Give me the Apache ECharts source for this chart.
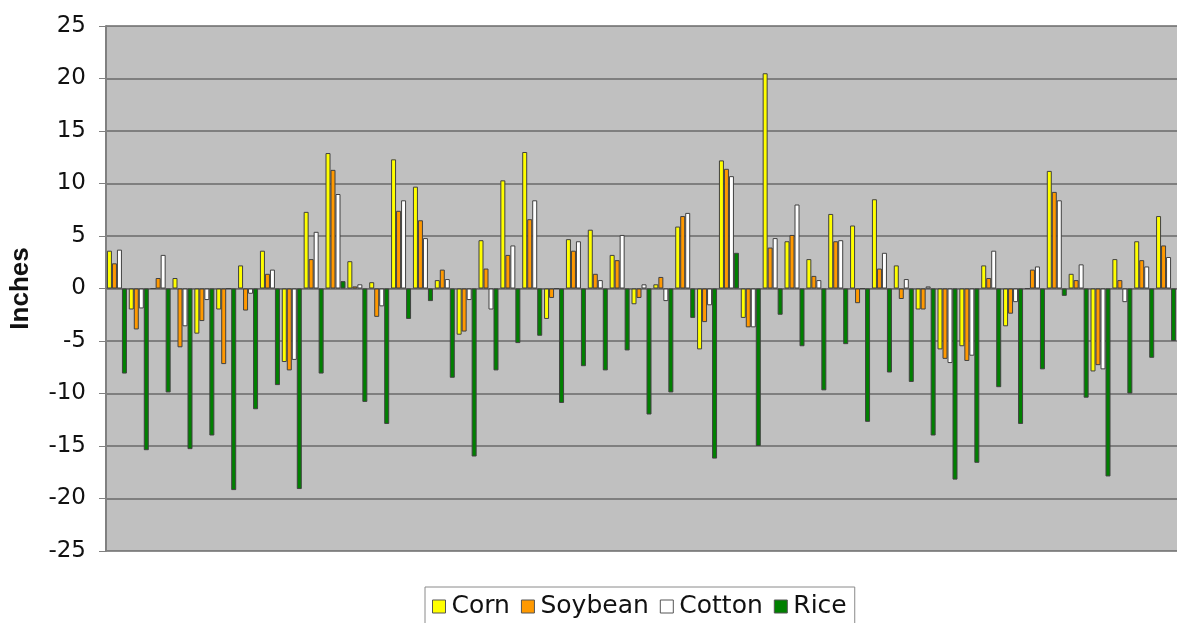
<!DOCTYPE html>
<html>
<head>
<meta charset="utf-8">
<script src="https://cdn.jsdelivr.net/npm/echarts@6/dist/echarts.min.js"></script>
<style>
html,body{margin:0;padding:0;background:#fff;}
#c{width:1177px;height:623px;}
</style>
</head>
<body>
<div id="c"></div>
<script>
const categories = ["1","2","3","4","5","6","7","8","9","10","11","12","13","14","15","16","17","18","19","20","21","22","23","24","25","26","27","28","29","30","31","32","33","34","35","36","37","38","39","40","41","42","43","44","45","46","47","48","49"];
const corn = [3.6, -2.0, 0.0, 1.0, -4.3, -2.0, 2.2, 3.6, -7.0, 7.3, 12.9, 2.6, 0.6, 12.3, 9.7, 0.8, -4.4, 4.6, 10.3, 13.0, -2.9, 4.7, 5.6, 3.2, -1.5, 0.4, 5.9, -5.8, 12.2, -2.8, 20.5, 4.5, 2.8, 7.1, 6.0, 8.5, 2.2, -2.0, -5.8, -5.5, 2.2, -3.6, 0.0, 11.2, 1.4, -7.9, 2.8, 4.5, 6.9];
const soybean = [2.4, -3.9, 1.0, -5.6, -3.1, -7.2, -2.1, 1.4, -7.8, 2.8, 11.3, 0.2, -2.7, 7.4, 6.5, 1.8, -4.1, 1.9, 3.2, 6.6, -0.9, 3.6, 1.4, 2.7, -0.9, 1.1, 6.9, -3.2, 11.4, -3.7, 3.9, 5.1, 1.2, 4.5, -1.4, 1.9, -1.0, -2.0, -6.7, -6.9, 1.0, -2.4, 1.8, 9.2, 0.8, -7.3, 0.8, 2.7, 4.1];
const cotton = [3.7, -1.9, 3.2, -3.6, -1.1, 0, -0.5, 1.8, -6.8, 5.4, 9.0, 0.4, -1.7, 8.4, 4.8, 0.9, -1.1, -2.0, 4.1, 8.4, 0, 4.5, 0.8, 5.1, 0.4, -1.2, 7.2, -1.6, 10.7, -3.7, 4.8, 8.0, 0.8, 4.6, 0, 3.4, 0.9, 0.2, -7.1, -6.4, 3.6, -1.3, 2.1, 8.4, 2.3, -7.7, -1.3, 2.1, 3.0];
const rice = [-8.1, -15.4, -9.9, -15.3, -14.0, -19.2, -11.5, -9.2, -19.1, -8.1, 0.7, -10.8, -12.9, -2.9, -1.2, -8.5, -16.0, -7.8, -5.2, -4.5, -10.9, -7.4, -7.8, -5.9, -12.0, -9.9, -2.8, -16.2, 3.4, -15.0, -2.5, -5.5, -9.7, -5.3, -12.7, -8.0, -8.9, -14.0, -18.2, -16.6, -9.4, -12.9, -7.7, -0.7, -10.4, -17.9, -10.0, -6.6, -5.0];
const seriesNames = ["Corn", "Soybean", "Cotton", "Rice"];
const seriesColors = ["#FFFF00", "#FF9900", "#FFFFFF", "#008000"];
const seriesData = [corn, soybean, cotton, rice];

const chart = echarts.init(document.getElementById('c'), null, {renderer: 'canvas'});
const font = "'DejaVu Sans', 'Liberation Sans', Arial, sans-serif";
const boldFont = "'Liberation Sans', Arial, sans-serif";
chart.setOption({
  animation: false,
  backgroundColor: '#ffffff',
  textStyle: {fontFamily: font},
  grid: {left: 103, top: 26, width: 1085, height: 525, show: true, backgroundColor: '#C0C0C0', borderWidth: 0},
  legend: {
    data: seriesNames,
    left: 425,
    top: 587,
    itemWidth: 13,
    itemHeight: 13,
    itemGap: 11,
    padding: [7, 8, 8, 7],
    borderColor: '#8a8a8a',
    borderWidth: 1,
    icon: 'rect',
    itemStyle: {borderColor: '#555', borderWidth: 1},
    textStyle: {fontFamily: font, fontSize: 25, color: '#111', padding: [0, 0, 0, 1]}
  },
  xAxis: {
    type: 'category',
    data: categories,
    axisLine: {show: true, onZero: true, lineStyle: {color: '#6a6a6a', width: 1}},
    axisTick: {show: false},
    axisLabel: {show: false},
    splitLine: {show: false}
  },
  yAxis: {
    type: 'value',
    min: -25, max: 25, interval: 5,
    name: 'Inches',
    nameLocation: 'middle',
    nameGap: 72,
    nameRotate: 90,
    nameTextStyle: {fontFamily: boldFont, fontSize: 26, fontWeight: 'bold', color: '#111'},
    axisLine: {show: true, lineStyle: {color: '#808080', width: 2}},
    axisTick: {show: true, length: 7, inside: false, lineStyle: {color: '#808080', width: 1}},
    axisLabel: {fontFamily: font, fontSize: 23, color: '#111', margin: 20},
    splitLine: {show: true, lineStyle: {color: '#6a6a6a', width: 1.5}}
  },
  series: seriesNames.map((n, i) => ({
    name: n,
    type: 'bar',
    data: seriesData[i],
    barWidth: 5,
    barGap: '0%',
    itemStyle: {color: seriesColors[i], borderColor: '#404040', borderWidth: 1}
  }))
});
</script>
</body>
</html>
